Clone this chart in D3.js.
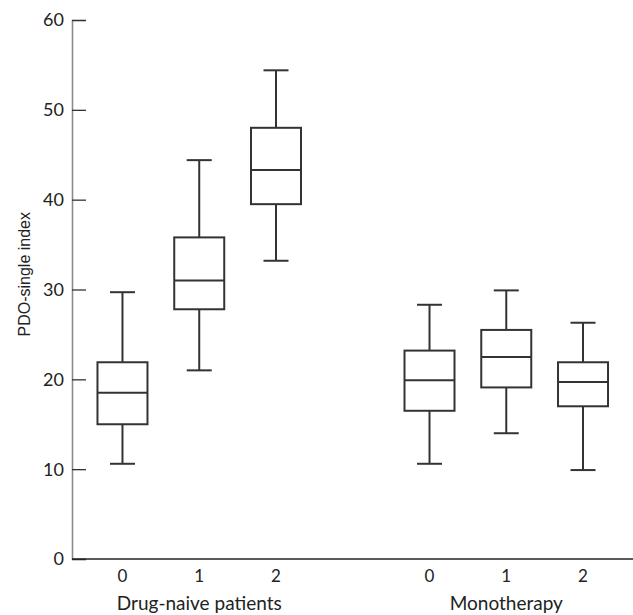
<!DOCTYPE html>
<html>
<head>
<meta charset="utf-8">
<script src="https://cdn.jsdelivr.net/npm/d3@7"></script>
<style>
  body { margin: 0; background: #fff; }
  svg { display: block; }
</style>
</head>
<body>
<div id="chart"></div>
<script>
// slots along x; "gap" is the empty slot between the two groups
var slots = ["n0", "n1", "n2", "gap", "m0", "m1", "m2"];
var tickLabels = ["0", "1", "2", "", "0", "1", "2"];
var groupNames = ["Drug-naive patients", "Monotherapy"];
var groupCentres = ["n1", "m1"];

// box stats
var boxKeys = ["n0", "n1", "n2", "m0", "m1", "m2"];
var whiskerLow  = [10.6, 21.0, 33.2, 10.6, 14.0,  9.9];
var q1          = [15.0, 27.8, 39.5, 16.5, 19.1, 17.0];
var median      = [18.5, 31.0, 43.3, 19.9, 22.5, 19.7];
var q3          = [21.9, 35.8, 48.0, 23.2, 25.5, 21.9];
var whiskerHigh = [29.7, 44.4, 54.4, 28.3, 29.9, 26.3];

var yTicks = [0, 10, 20, 30, 40, 50, 60];

var W = 633, H = 615;
var svg = d3.select("#chart").append("svg")
    .attr("width", W).attr("height", H);

var x = d3.scaleBand().domain(slots).range([84.1, 621.4]);
var y = d3.scaleLinear().domain([0, 60]).range([559, 20]);

var boxW = 50, capW = 25;
var ink = "#333";
var tickFont = "Lato, 'Open Sans', sans-serif";

var data = boxKeys.map(function(k, i) {
    return {key: k, lo: whiskerLow[i], q1: q1[i], med: median[i], q3: q3[i], hi: whiskerHigh[i]};
});

// y axis
var yAxis = d3.axisRight(y).tickValues(yTicks).tickSize(14).tickFormat("");
var gy = svg.append("g")
    .attr("transform", "translate(72,0)")
    .call(yAxis);
gy.select(".domain").attr("stroke", "#8a8a8a").attr("stroke-width", 1.6);
gy.selectAll(".tick line").attr("stroke", ink).attr("stroke-width", 1.3);

svg.append("g").selectAll("text")
    .data(yTicks)
    .enter().append("text")
    .attr("x", 64)
    .attr("y", function(d) { return y(d); })
    .attr("dy", "0.36em")
    .attr("text-anchor", "end")
    .style("font-family", tickFont)
    .style("font-size", "18px")
    .style("fill", "#222")
    .text(function(d) { return d; });

// x axis
svg.append("line")
    .attr("x1", 72).attr("x2", W)
    .attr("y1", y(0)).attr("y2", y(0))
    .attr("stroke", "#222").attr("stroke-width", 1.6);

svg.append("g").selectAll("text")
    .data(slots)
    .enter().append("text")
    .attr("x", function(d) { return x(d) + x.bandwidth() / 2; })
    .attr("y", 582)
    .attr("text-anchor", "middle")
    .style("font-family", tickFont)
    .style("font-size", "17px")
    .style("fill", "#222")
    .text(function(d, i) { return tickLabels[i]; });

svg.append("g").selectAll("text")
    .data(groupNames)
    .enter().append("text")
    .attr("x", function(d, i) { return x(groupCentres[i]) + x.bandwidth() / 2; })
    .attr("y", 610)
    .attr("text-anchor", "middle")
    .style("font-family", tickFont)
    .style("font-size", "19px")
    .style("fill", "#222")
    .text(function(d) { return d; });

svg.append("text")
    .attr("transform", "translate(30," + y(31.7) + ") rotate(-90)")
    .attr("text-anchor", "middle")
    .style("font", "16px 'Liberation Sans', Arial, sans-serif")
    .style("fill", "#222")
    .text("PDO-single index");

// boxes
var g = svg.append("g").selectAll("g")
    .data(data)
    .enter().append("g")
    .attr("transform", function(d) { return "translate(" + (x(d.key) + x.bandwidth() / 2) + ",0)"; })
    .attr("stroke", ink)
    .attr("stroke-width", 2)
    .attr("fill", "none");

g.append("line")
    .attr("x1", 0).attr("x2", 0)
    .attr("y1", function(d) { return y(d.hi); })
    .attr("y2", function(d) { return y(d.q3); });
g.append("line")
    .attr("x1", 0).attr("x2", 0)
    .attr("y1", function(d) { return y(d.q1); })
    .attr("y2", function(d) { return y(d.lo); });
g.append("line")
    .attr("x1", -capW / 2).attr("x2", capW / 2)
    .attr("y1", function(d) { return y(d.hi); })
    .attr("y2", function(d) { return y(d.hi); });
g.append("line")
    .attr("x1", -capW / 2).attr("x2", capW / 2)
    .attr("y1", function(d) { return y(d.lo); })
    .attr("y2", function(d) { return y(d.lo); });
g.append("rect")
    .attr("x", -boxW / 2)
    .attr("width", boxW)
    .attr("y", function(d) { return y(d.q3); })
    .attr("height", function(d) { return y(d.q1) - y(d.q3); });
g.append("line")
    .attr("x1", -boxW / 2).attr("x2", boxW / 2)
    .attr("y1", function(d) { return y(d.med); })
    .attr("y2", function(d) { return y(d.med); });
</script>
</body>
</html>
